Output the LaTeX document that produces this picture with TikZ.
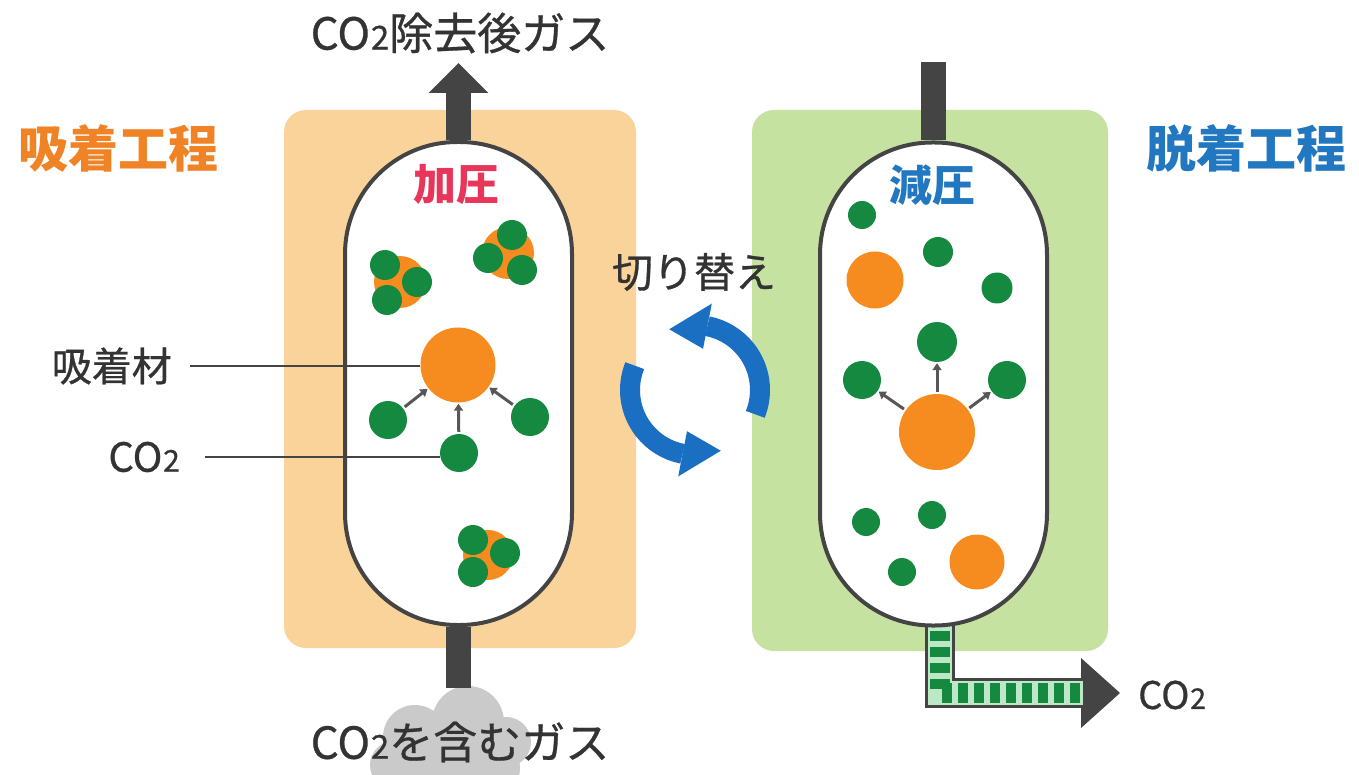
\documentclass[tikz,border=0pt]{standalone}
\usepackage{fontspec}
\usepackage{graphicx}
\setmainfont{Noto Sans CJK JP}
\newfontfamily\jpmed{Noto Sans CJK JP}[FakeBold=0.7]
\usetikzlibrary{calc,arrows.meta}

\definecolor{panelorange}{HTML}{FAD39B}
\definecolor{panelgreen}{HTML}{C6E2A0}
\definecolor{pipegray}{HTML}{444444}
\definecolor{molgreen}{HTML}{15893F}
\definecolor{palegreen}{HTML}{BDE8C6}
\definecolor{sorbentorange}{HTML}{F68B1F}
\definecolor{swblue}{HTML}{1B6FC2}
\definecolor{adsorbtxt}{HTML}{F08326}
\definecolor{desorbtxt}{HTML}{2178C0}
\definecolor{presstxt}{HTML}{E8365A}
\definecolor{cloudgray}{HTML}{CACACA}
\definecolor{textdark}{HTML}{333333}

% CO2 with a small subscript-like digit on the baseline
\newcommand{\cotwo}{CO\kern0.02em\scalebox{0.75}{2}}

\pgfdeclarelayer{panels}
\pgfdeclarelayer{pipes}
\pgfsetlayers{panels,pipes,main}

\begin{document}
\begin{tikzpicture}[x=1pt,y=-1pt,
  vessel/.style={draw=pipegray, line width=4, fill=white, inner sep=0,
    minimum width=227, minimum height=483, rounded corners=112},
  co2/.style={circle, fill=molgreen, inner sep=0, minimum size=#1},
  co2/.default=38,
  sorbent/.style={circle, fill=sorbentorange, inner sep=0, minimum size=#1},
  sorbent/.default=75,
  pipeline/.style={draw=pipegray, line width=25},
  flowtip/.style={draw=pipegray!90, line width=3, shorten <=2, shorten >=1,
    -{Triangle[length=7pt,width=9pt]}},
  gaslabel/.style={text=textdark, font=\jpmed\fontsize{44}{50}\selectfont, inner sep=0},
  sidelabel/.style={text=textdark, font=\jpmed\fontsize{40}{46}\selectfont, inner sep=0},
  leader/.style={draw=pipegray, line width=2.5},
  swarrow/.style={draw=swblue, line width=20},
]
\useasboundingbox (0,0) rectangle (1359,775);

% ---- vessels -------------------------------------------------------
\node[vessel] (v1) at (458.5,383.5) {};
\node[vessel] (v2) at (933.5,384) {};

% ---- background, process panels and gas cloud ---------------------
\begin{pgfonlayer}{panels}
  \fill[white] (0,0) rectangle (1359,775);
  \fill[panelorange, rounded corners=22] (284,110) rectangle (636,648);
  \fill[panelgreen, rounded corners=22] (752,110) rectangle (1108,651);
  \fill[cloudgray] (468,722) circle[radius=36]
                   (415,737) circle[radius=32]
                   (506,742) circle[radius=25]
                   (440,768) circle[radius=30]
                   (490,768) circle[radius=30]
                   (394,765) circle[radius=24];
\end{pgfonlayer}

% ---- pipes ---------------------------------------------------------
\coordinate (outlet) at (458.5,63);
\coordinate (feed)   at (458.5,688);
\coordinate (vent)   at (933.5,62);
\coordinate (drain)  at (940,615);
\coordinate (bend)   at (940,693);
\coordinate (co2out) at (1083,693);
\coordinate (co2tip) at (1120,693);
\begin{pgfonlayer}{pipes}
  \draw[pipeline, -{Triangle[length=30pt,width=58pt]}] (v1.north) -- (outlet);
  \draw[pipeline] (feed) -- (v1.south);
  \draw[pipeline] (v2.north) -- (vent);
  % CO2 discharge line, filled with released molecules
  \draw[draw=pipegray, line width=30, line join=miter] (drain) -- (bend) -- (co2out);
  \fill[pipegray] (1081,658) -- (co2tip) -- (1081,728) -- cycle;
  \draw[draw=palegreen, line width=24, line join=miter] (drain) -- (bend) -- (co2out);
  \draw[draw=molgreen, line width=20, dash pattern=on 10 off 6, line join=miter]
       (drain) -- (bend) -- (co2out);
\end{pgfonlayer}

% ---- adsorption vessel contents ------------------------------------
\node[sorbent] (sl) at (458,365) {};
\node[co2] (gl1) at (388,420) {};
\node[co2] (gl2) at (530,417) {};
\node[co2] (gl3) at (459,453) {};
\draw[flowtip] (gl1) -- (sl);
\draw[flowtip] (gl2) -- (sl);
\draw[flowtip] (gl3) -- (sl);

% saturated sorbent particles
\node[sorbent=52] (ca) at (400,282) {};
\node[co2=30] (ca1) at (385,265) {};
\node[co2=30] (ca2) at (417,282) {};
\node[co2=30] (ca3) at (387,300) {};
\node[sorbent=52] (cb) at (508,253) {};
\node[co2=30] (cb1) at (512,235) {};
\node[co2=30] (cb2) at (488,258) {};
\node[co2=30] (cb3) at (522,270) {};
\node[sorbent=50] (cc) at (488,555) {};
\node[co2=30] (cc1) at (473,540) {};
\node[co2=30] (cc2) at (505,553) {};
\node[co2=30] (cc3) at (473,572) {};

% ---- desorption vessel contents ------------------------------------
\node[co2=28] (gr1) at (862,215) {};
\node[co2=30] (gr2) at (938,252) {};
\node[sorbent=57] (sr1) at (875,280) {};
\node[co2=31] (gr3) at (997,288) {};
\node[co2=40] (gr4) at (937,342) {};
\node[co2=38] (gr5) at (862,380) {};
\node[co2=38] (gr6) at (1007,380) {};
\node[sorbent=76] (sr2) at (937,432) {};
\draw[flowtip] (sr2) -- (gr4);
\draw[flowtip] (sr2) -- (gr5);
\draw[flowtip] (sr2) -- (gr6);
\node[co2=28] (gr7) at (866,522) {};
\node[co2=28] (gr8) at (932,515) {};
\node[co2=28] (gr9) at (902,572) {};
\node[sorbent=55] (sr3) at (977,562) {};

% ---- switching symbol ----------------------------------------------
\coordinate (sw) at (695,390);
\draw[swarrow] ($(sw)+(22:65)$) arc[start angle=22, end angle=-79, radius=65];
\fill[swblue] ($(sw)+(-79:42)$) -- ($(sw)+(-113:66)$) -- ($(sw)+(-79:88)$) -- cycle;
\draw[swarrow] ($(sw)+(202:65)$) arc[start angle=202, end angle=101, radius=65];
\fill[swblue] ($(sw)+(101:42)$) -- ($(sw)+(67:66)$) -- ($(sw)+(101:88)$) -- cycle;

% ---- texts ---------------------------------------------------------
\node[gaslabel] (tgasout) at (460,33) {\cotwo 除去後ガス};
\node[gaslabel] (tgasin)  at (460,742) {\cotwo を含むガス};
\node[text=adsorbtxt, font=\fontsize{50}{56}\selectfont\bfseries, inner sep=0]
  (tads) at (118,148) {吸着工程};
\node[text=desorbtxt, font=\fontsize{50}{56}\selectfont\bfseries, inner sep=0]
  (tdes) at (1246,148) {脱着工程};
\node[text=presstxt, font=\fontsize{43}{48}\selectfont\bfseries, inner sep=0]
  (tpress) at (456,185) {加圧};
\node[text=desorbtxt, font=\fontsize{43}{48}\selectfont\bfseries, inner sep=0]
  (tdepress) at (932,185) {減圧};
\node[sidelabel, font=\jpmed\fontsize{41}{46}\selectfont] (tswitch) at (694,272) {切り替え};
\node[sidelabel, anchor=east] (tsorb) at (172,366) {吸着材};
\node[sidelabel, anchor=east] (tco2) at (180,457) {\cotwo};
\node[sidelabel, anchor=west, font=\jpmed\fontsize{38}{44}\selectfont] (tco2out) at (1138,695) {\cotwo};

% leader lines
\draw[leader] ([xshift=18]tsorb.east) -- (tsorb.east -| sl.west);
\draw[leader] ([xshift=25]tco2.east) -- (tco2.east -| gl3.west);
\end{tikzpicture}
\end{document}
